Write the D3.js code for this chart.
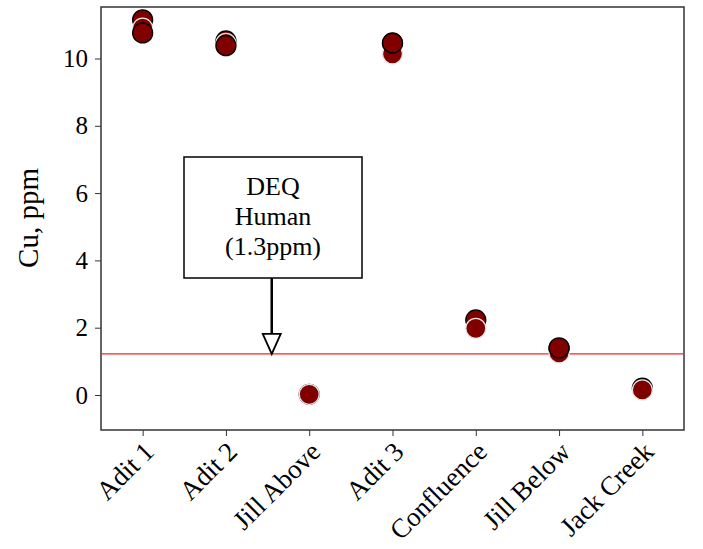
<!DOCTYPE html>
<html>
<head>
<meta charset="utf-8">
<script src="https://cdn.jsdelivr.net/npm/d3@7"></script>
<style>
  body { margin: 0; background: #fff; }
  text { font-family: "Liberation Serif", "Times New Roman", serif; fill: #000; }
</style>
</head>
<body>
<div id="chart"></div>
<script>
// sites along the creek
var sites = ["Adit 1", "Adit 2", "Jill Above", "Adit 3", "Confluence", "Jill Below", "Jack Creek"];

// three sampling rounds, Cu in ppm (null = not sampled)
var round1 = [11.15, 10.52, 0.02, 10.45, 2.23, 1.38, 0.2];
var round2 = [10.9, 10.45, 0.02, 10.14, 1.98, 1.25, 0.15];
var round3 = [10.76, 10.38, null, 10.46, null, 1.4, null];

var yTicks = [0, 2, 4, 6, 8, 10];
var deqLimit = 1.22; // drawn line position
var deqText = ["DEQ", "Human", "(1.3ppm)"];

var width = 703, height = 549,
    margin = {top: 7, right: 19, bottom: 119, left: 101};

var svg = d3.select("#chart").append("svg")
    .attr("width", width)
    .attr("height", height);

var plotW = width - margin.left - margin.right,
    plotH = height - margin.top - margin.bottom;

var g = svg.append("g")
    .attr("transform", "translate(" + margin.left + "," + margin.top + ")");

var xScale = d3.scalePoint()
    .domain(sites)
    .range([0, plotW])
    .padding(0.5);

var yScale = d3.scaleLinear()
    .domain([-1.04, 11.53])
    .range([plotH, 0]);

//Axes
var yAxis = g.append("g")
    .call(d3.axisLeft(yScale).tickValues(yTicks).tickSize(6).tickPadding(7));
yAxis.select(".domain").remove();
yAxis.selectAll("text").style("font-size", "25px");
yAxis.selectAll("line").attr("stroke", "#333");

var xAxis = g.append("g")
    .attr("transform", "translate(0," + plotH + ")")
    .call(d3.axisBottom(xScale).tickSize(6));
xAxis.select(".domain").remove();
xAxis.selectAll("line").attr("stroke", "#333");
xAxis.selectAll("text")
    .style("font-size", "27px")
    .attr("text-anchor", "end")
    .attr("transform", "translate(-1,10) rotate(-45)")
    .attr("dy", "0.7em")
    .attr("y", 0)
    .attr("x", 0);

//Frame
g.append("rect")
    .attr("width", plotW)
    .attr("height", plotH)
    .attr("fill", "none")
    .attr("stroke", "#333")
    .attr("stroke-width", 1.5);

//Y label
svg.append("text")
    .attr("transform", "translate(38," + (margin.top + 211) + ") rotate(-90)")
    .attr("text-anchor", "middle")
    .style("font-size", "29px")
    .text("Cu, ppm");

//DEQ limit line
g.append("line")
    .attr("x1", 0).attr("x2", plotW)
    .attr("y1", yScale(deqLimit)).attr("y2", yScale(deqLimit))
    .attr("stroke", "#ff2020")
    .attr("stroke-width", 1.2);

//Points, one layer per round
var rounds = [
    {values: round1, edge: "#000"},
    {values: round2, edge: "#e6e6e6"},
    {values: round3, edge: "#000"}
];
var radius = 10;

rounds.forEach(function (r) {
    var pts = r.values.map(function (v, i) { return {site: sites[i], value: v}; })
        .filter(function (d) { return d.value !== null; });
    g.append("g").selectAll("circle")
        .data(pts)
        .enter()
        .append("circle")
        .attr("cx", function (d) { return xScale(d.site); })
        .attr("cy", function (d) { return yScale(d.value); })
        .attr("r", radius)
        .attr("fill", "#800000")
        .attr("stroke", r.edge)
        .attr("stroke-width", 1.3);
});

//Annotation box with arrow
var boxX = 184 - margin.left, boxY = 157 - margin.top, boxW = 178, boxH = 121;
var arrowX = xScale("Jill Above") - (xScale("Jill Above") - xScale("Adit 2")) * 0.45;
var tipY = yScale(deqLimit);

g.append("line")
    .attr("x1", arrowX).attr("x2", arrowX)
    .attr("y1", boxY + boxH).attr("y2", tipY - 20)
    .attr("stroke", "#000")
    .attr("stroke-width", 2.5);

g.append("path")
    .attr("d", "M" + (arrowX - 9) + "," + (tipY - 20) + "L" + (arrowX + 9) + "," + (tipY - 20) + "L" + arrowX + "," + tipY + "Z")
    .attr("fill", "#fff")
    .attr("stroke", "#000")
    .attr("stroke-width", 1.8);

g.append("rect")
    .attr("x", boxX).attr("y", boxY)
    .attr("width", boxW).attr("height", boxH)
    .attr("fill", "#fff")
    .attr("stroke", "#000")
    .attr("stroke-width", 1.5);

g.append("g").selectAll("text")
    .data(deqText)
    .enter()
    .append("text")
    .attr("x", boxX + boxW / 2)
    .attr("y", function (d, i) { return boxY + 38 + i * 30; })
    .attr("text-anchor", "middle")
    .style("font-size", "26px")
    .text(function (d) { return d; });
</script>
</body>
</html>
